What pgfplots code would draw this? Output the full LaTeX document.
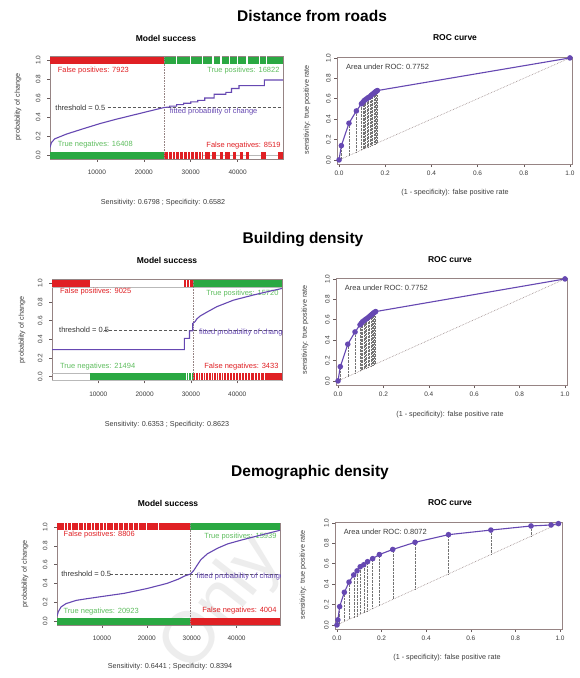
\documentclass[border=0pt]{standalone}
\usepackage{fontspec}
\setmainfont{Liberation Sans}
\usepackage{pgfplots}
\pgfplotsset{compat=1.18}

\definecolor{rred}{RGB}{224,32,36}
\definecolor{rgreen}{RGB}{42,168,66}
\definecolor{tgreen}{RGB}{95,190,95}
\definecolor{rpurple}{RGB}{102,72,178}
\definecolor{framec}{RGB}{150,132,132}
\definecolor{txt}{RGB}{60,60,60}

\newcommand{\lbl}{\fontsize{7.2}{8}\selectfont}
\newcommand{\ptxt}{\fontsize{7.5}{8}\selectfont}
\newcommand{\sub}{\bfseries\fontsize{8.5}{9}\selectfont}
\newcommand{\ttl}{\bfseries\fontsize{15.5}{16}\selectfont}

\pgfplotsset{
  rbase/.style={scale only axis, anchor=south west, clip=true,
    axis line style={framec, line width=0.6pt},
    tick style={framec!70!black, line width=0.5pt},
    tick align=outside, major tick length=3pt,
    xtick pos=left, ytick pos=left,
    scaled x ticks=false, scaled y ticks=false,
    ticklabel style={font=\fontsize{6.5}{7}\selectfont, text=txt},
    yticklabel style={rotate=90, anchor=south},
    ytick={0,0.2,0.4,0.6,0.8,1}, yticklabels={0.0,0.2,0.4,0.6,0.8,1.0},
    unbounded coords=jump,
    /pgf/number format/assume math mode=true},
  ms/.style={rbase, xmin=1, xmax=49672, ymin=-0.04, ymax=1.04,
    xtick={10000,20000,30000,40000}, xticklabels={10000,20000,30000,40000},
    xticklabel shift=5pt, yticklabel shift=3pt},
  roc/.style={rbase, xmin=-0.008, xmax=1.008, ymin=-0.04, ymax=1.01,
    xtick={0,0.2,0.4,0.6,0.8,1}, xticklabels={0.0,0.2,0.4,0.6,0.8,1.0}},
  bar/.style={line width=7pt, forget plot},
  cuts/.style={draw=none, forget plot, error bars/y dir=both,
    error bars/y fixed=0.037, error bars/error mark=none,
    error bars/error bar style={draw=white, line width=#1}},
  guide/.style={gray!55, line width=0.3pt, forget plot},
  fit/.style={rpurple, line width=1.1pt},
  thr/.style={black!65, densely dashed, line width=0.5pt},
  vthr/.style={framec, densely dotted, line width=0.6pt},
  diag/.style={framec, densely dotted, line width=0.6pt},
  drop/.style={draw=none, error bars/y dir=minus, error bars/y explicit,
    error bars/error mark=none,
    error bars/error bar style={draw=black!55, densely dotted, line width=0.4pt}},
  rocl/.style={rpurple, line width=1.1pt, mark=*, mark size=2.2pt,
    mark options={solid, fill=rpurple, draw=rpurple}},
}

\begin{document}
\begin{tikzpicture}
\fill[white] (0,0) rectangle (580pt,-678pt);
\path[use as bounding box] (0,0) rectangle (580pt,-678pt);
\node[rotate=52, text=black!7, font=\fontsize{72}{72}\selectfont] at (222pt,-605pt) {Only};

% ---------------- row 1 : distance from roads ----------------
\node[font=\ttl] at (312pt,-16pt) {Distance from roads};
\node[font=\sub] at (166pt,-38pt) {Model success};
\node[font=\sub] at (455pt,-38pt) {ROC curve};
\node[rotate=90, font=\lbl, text=txt] at (18pt,-107pt) {probability of change};
\node[font=\lbl, text=txt] at (163pt,-203pt) {Sensitivity: 0.6798 ; Specificity: 0.6582};
\node[rotate=90, font=\lbl, text=txt] at (307pt,-110pt) {sensitivity: true positive rate};
\node[font=\lbl, text=txt] at (455pt,-193pt) {(1 - specificity): false positive rate};

\begin{axis}[ms, at={(50pt,-158.8pt)}, width=233pt, height=102.6pt]
\addplot[guide] coordinates {(24331,0) (49672,0)};
\addplot[bar, rred] coordinates {(1,1) (24331,1)};
\addplot[bar, rgreen] coordinates {(24331,1) (49672,1)};
\addplot[cuts=1.5pt] coordinates {(27000,1) (30000,1) (32500,1) (34700,1) (36500,1) (38300,1) (40000,1) (42000,1) (44700,1) (46200,1)};
\addplot[bar, rgreen] coordinates {(1,0) (24331,0)};
\addplot[bar, rred] coordinates {(24331,0) (32600,0) (32600,nan) (33000,0) (34200,0) (34200,nan)
  (34600,0) (35300,0) (35300,nan) (36200,0) (36900,0) (36900,nan) (37400,0) (38400,0) (38400,nan)
  (39000,0) (39700,0) (39700,nan) (40400,0) (41100,0) (41100,nan) (41800,0) (42400,0) (42400,nan)
  (45000,0) (46000,0) (46000,nan) (48600,0) (49672,0)};
\addplot[cuts=0.6pt] coordinates {(25200,0) (26000,0) (26800,0) (27600,0) (28500,0) (29300,0) (30000,0) (30800,0) (31600,0) (32200,0)};
\addplot[thr] coordinates {(12300,0.5) (49672,0.5)};
\addplot[vthr] coordinates {(24331,-0.04) (24331,1.04)};
\node[anchor=west, text=rred, font=\ptxt] at (axis cs:900,0.885) {False positives: 7923};
\node[anchor=east, text=tgreen, font=\ptxt] at (axis cs:49672,0.885) {True positives: 16822};
\node[anchor=west, text=black!80, font=\ptxt, inner sep=1pt] at (axis cs:900,0.5) {threshold = 0.5};
\node[anchor=west, text=rpurple, font=\ptxt] at (axis cs:24800,0.455) {fitted probability of change};
\node[anchor=west, text=tgreen, font=\ptxt] at (axis cs:900,0.105) {True negatives: 16408};
\node[anchor=east, text=rred, font=\ptxt] at (axis cs:49900,0.1) {False negatives: 8519};
\addplot[fit] coordinates {(1,0.08) (300,0.13) (1000,0.17) (3500,0.22) (7000,0.275) (10600,0.33)
  (14000,0.375) (17700,0.42) (21000,0.46) (24331,0.50) (25500,0.505) (25500,0.515) (27000,0.515)
  (27000,0.53) (28500,0.53) (28500,0.545) (30000,0.545) (30000,0.56) (31500,0.56) (31500,0.575)
  (33000,0.575) (33000,0.6) (35000,0.6) (35000,0.64) (37500,0.64) (37500,0.66) (38700,0.66)
  (38700,0.7) (40300,0.7) (40300,0.73) (45700,0.73) (45700,0.79) (49672,0.79)};
\end{axis}

\begin{axis}[roc, at={(337.2pt,-164pt)}, width=234.6pt, height=107.1pt]
\addplot[diag] coordinates {(0,0) (1,1)};
\addplot[drop] coordinates {(0.01,0.14) -= (0,0.13) (0.043,0.36) -= (0,0.317) (0.075,0.48) -= (0,0.405)
  (0.097,0.55) -= (0,0.453) (0.103,0.565) -= (0,0.462) (0.108,0.58) -= (0,0.472) (0.114,0.59) -= (0,0.476)
  (0.12,0.60) -= (0,0.48) (0.126,0.61) -= (0,0.484) (0.133,0.62) -= (0,0.487) (0.139,0.632) -= (0,0.493)
  (0.145,0.645) -= (0,0.5) (0.151,0.655) -= (0,0.504) (0.156,0.665) -= (0,0.509) (0.161,0.673) -= (0,0.512)
  (0.166,0.68) -= (0,0.514)};
\addplot[rocl] coordinates {(0,0) (0.01,0.14) (0.043,0.36) (0.075,0.48) (0.097,0.55) (0.103,0.565)
  (0.108,0.58) (0.114,0.59) (0.12,0.60) (0.126,0.61) (0.133,0.62) (0.139,0.632) (0.145,0.645)
  (0.151,0.655) (0.156,0.665) (0.161,0.673) (0.166,0.68) (1,1)};
\node[anchor=west, text=txt, font=\ptxt] at (axis cs:0.015,0.915) {Area under ROC: 0.7752};
\end{axis}

% ---------------- row 2 : building density ----------------
\node[font=\ttl] at (303pt,-240pt) {Building density};
\node[font=\sub] at (167pt,-260pt) {Model success};
\node[font=\sub] at (450pt,-260pt) {ROC curve};
\node[rotate=90, font=\lbl, text=txt] at (22pt,-330pt) {probability of change};
\node[font=\lbl, text=txt] at (167pt,-425pt) {Sensitivity: 0.6353 ; Specificity: 0.8623};
\node[rotate=90, font=\lbl, text=txt] at (305pt,-330pt) {sensitivity: true positive rate};
\node[font=\lbl, text=txt] at (450pt,-415pt) {(1 - specificity): false positive rate};

\begin{axis}[ms, at={(52pt,-380.4pt)}, width=230pt, height=100.8pt]
\addplot[guide] coordinates {(1,0.963) (49672,0.963)};
\addplot[guide] coordinates {(1,-0.037) (49672,-0.037)};
\addplot[guide] coordinates {(1,0.037) (49672,0.037)};
\addplot[bar, rred] coordinates {(1,1) (8200,1) (8200,nan) (28600,1) (30400,1)};
\addplot[bar, rgreen] coordinates {(30400,1) (49672,1)};
\addplot[cuts=0.6pt] coordinates {(29100,1) (29700,1)};
\addplot[bar, rgreen] coordinates {(8200,0) (30400,0)};
\addplot[bar, rred] coordinates {(30400,0) (49672,0)};
\addplot[cuts=0.6pt] coordinates {(28900,0) (29500,0) (30000,0) (31000,0) (31600,0) (32100,0) (32700,0)
  (33200,0) (33800,0) (34300,0) (34900,0) (35400,0) (36000,0) (36600,0) (37100,0) (37700,0) (38300,0)
  (38900,0) (39500,0) (40200,0) (40800,0) (41500,0) (42200,0) (42900,0) (43600,0) (44300,0) (45000,0)
  (45800,0)};
\addplot[thr] coordinates {(11300,0.5) (49672,0.5)};
\addplot[vthr] coordinates {(30519,-0.04) (30519,1.04)};
\node[anchor=west, text=rred, font=\ptxt] at (axis cs:1000,0.91) {False positives: 9025};
\node[anchor=east, text=tgreen, font=\ptxt] at (axis cs:49672,0.89) {True positives: 15720};
\node[anchor=west, text=black!80, font=\ptxt, inner sep=1pt] at (axis cs:1300,0.5) {threshold = 0.5};
\node[anchor=west, text=rpurple, font=\ptxt] at (axis cs:31000,0.475) {fitted probability of change};
\node[anchor=west, text=tgreen, font=\ptxt] at (axis cs:1000,0.107) {True negatives: 21494};
\node[anchor=east, text=rred, font=\ptxt] at (axis cs:49672,0.107) {False negatives: 3433};
\addplot[fit] coordinates {(1,0.29) (28600,0.29) (28600,0.41) (29700,0.41) (29700,0.49) (30400,0.49)
  (30400,0.57) (30900,0.59) (31300,0.62) (32000,0.65) (33400,0.69) (35600,0.75) (39200,0.82)
  (43500,0.875) (46500,0.91) (49672,0.945)};
\end{axis}

\begin{axis}[roc, at={(336.2pt,-385pt)}, width=230.6pt, height=107.1pt]
\addplot[diag] coordinates {(0,0) (1,1)};
\addplot[drop] coordinates {(0.01,0.14) -= (0,0.13) (0.043,0.36) -= (0,0.317) (0.075,0.48) -= (0,0.405)
  (0.097,0.55) -= (0,0.453) (0.103,0.565) -= (0,0.462) (0.108,0.58) -= (0,0.472) (0.114,0.59) -= (0,0.476)
  (0.12,0.60) -= (0,0.48) (0.126,0.61) -= (0,0.484) (0.133,0.62) -= (0,0.487) (0.139,0.632) -= (0,0.493)
  (0.145,0.645) -= (0,0.5) (0.151,0.655) -= (0,0.504) (0.156,0.665) -= (0,0.509) (0.161,0.673) -= (0,0.512)
  (0.166,0.68) -= (0,0.514)};
\addplot[rocl] coordinates {(0,0) (0.01,0.14) (0.043,0.36) (0.075,0.48) (0.097,0.55) (0.103,0.565)
  (0.108,0.58) (0.114,0.59) (0.12,0.60) (0.126,0.61) (0.133,0.62) (0.139,0.632) (0.145,0.645)
  (0.151,0.655) (0.156,0.665) (0.161,0.673) (0.166,0.68) (1,1)};
\node[anchor=west, text=txt, font=\ptxt] at (axis cs:0.015,0.915) {Area under ROC: 0.7752};
\end{axis}

% ---------------- row 3 : demographic density ----------------
\node[font=\ttl] at (310pt,-473pt) {Demographic density};
\node[font=\sub] at (168pt,-503pt) {Model success};
\node[font=\sub] at (450pt,-503pt) {ROC curve};
\node[rotate=90, font=\lbl, text=txt] at (25pt,-574pt) {probability of change};
\node[font=\lbl, text=txt] at (170pt,-667pt) {Sensitivity: 0.6441 ; Specificity: 0.8394};
\node[rotate=90, font=\lbl, text=txt] at (303pt,-575pt) {sensitivity: true positive rate};
\node[font=\lbl, text=txt] at (447pt,-658pt) {(1 - specificity): false positive rate};

\begin{axis}[ms, at={(57pt,-624.8pt)}, width=223pt, height=101.6pt]
\addplot[bar, rred] coordinates {(1,1) (29729,1)};
\addplot[bar, rgreen] coordinates {(29729,1) (49672,1)};
\addplot[cuts=0.6pt] coordinates {(1700,1) (2400,1) (3200,1) (4700,1) (5800,1) (6500,1) (7700,1) (8400,1)
  (9500,1) (10300,1) (11000,1) (12500,1) (13600,1) (14800,1) (15900,1) (17000,1) (18100,1) (20000,1)
  (22600,1)};
\addplot[bar, rgreen] coordinates {(1,0) (29729,0)};
\addplot[bar, rred] coordinates {(29729,0) (49672,0)};
\addplot[thr] coordinates {(11800,0.5) (49672,0.5)};
\addplot[vthr] coordinates {(29729,-0.04) (29729,1.04)};
\node[anchor=west, text=rred, font=\ptxt] at (axis cs:700,0.915) {False positives: 8806};
\node[anchor=east, text=tgreen, font=\ptxt] at (axis cs:49672,0.9) {True positives: 15939};
\node[anchor=west, text=black!80, font=\ptxt, inner sep=1pt] at (axis cs:700,0.5) {threshold = 0.5};
\node[anchor=west, text=rpurple, font=\ptxt] at (axis cs:30300,0.47) {fitted probability of change};
\node[anchor=west, text=tgreen, font=\ptxt] at (axis cs:700,0.1) {True negatives: 20923};
\node[anchor=east, text=rred, font=\ptxt] at (axis cs:49672,0.11) {False negatives: 4004};
\addplot[fit] coordinates {(1,0.05) (300,0.1) (900,0.15) (2000,0.185) (4300,0.22) (7000,0.24)
  (9900,0.26) (15000,0.295) (20000,0.345) (24500,0.40) (27000,0.445) (28500,0.48) (29729,0.50)
  (30500,0.54) (31300,0.60) (32000,0.65) (33500,0.715) (35800,0.775) (38000,0.82) (41000,0.86)
  (45500,0.915) (49672,0.965)};
\end{axis}

\begin{axis}[roc, at={(335.2pt,-629pt)}, width=226.6pt, height=107.1pt]
\addplot[diag] coordinates {(0,0) (1,1)};
\addplot[drop] coordinates {(0.004,0.05) -= (0,0.046) (0.012,0.18) -= (0,0.168) (0.033,0.32) -= (0,0.287)
  (0.054,0.42) -= (0,0.366) (0.075,0.49) -= (0,0.415) (0.09,0.53) -= (0,0.44) (0.104,0.57) -= (0,0.466)
  (0.12,0.59) -= (0,0.47) (0.137,0.62) -= (0,0.483) (0.16,0.65) -= (0,0.49) (0.19,0.69) -= (0,0.5)
  (0.25,0.74) -= (0,0.49) (0.35,0.81) -= (0,0.46) (0.50,0.885) -= (0,0.385) (0.69,0.93) -= (0,0.24)
  (0.87,0.97) -= (0,0.1) (0.96,0.98) -= (0,0.02)};
\addplot[rocl] coordinates {(0,0) (0.004,0.05) (0.012,0.18) (0.033,0.32) (0.054,0.42) (0.075,0.49)
  (0.09,0.53) (0.104,0.57) (0.12,0.59) (0.137,0.62) (0.16,0.65) (0.19,0.69) (0.25,0.74) (0.35,0.81)
  (0.50,0.885) (0.69,0.93) (0.87,0.97) (0.96,0.98) (0.993,0.993)};
\node[anchor=west, text=txt, font=\ptxt] at (axis cs:0.015,0.915) {Area under ROC: 0.8072};
\end{axis}
\end{tikzpicture}
\end{document}
